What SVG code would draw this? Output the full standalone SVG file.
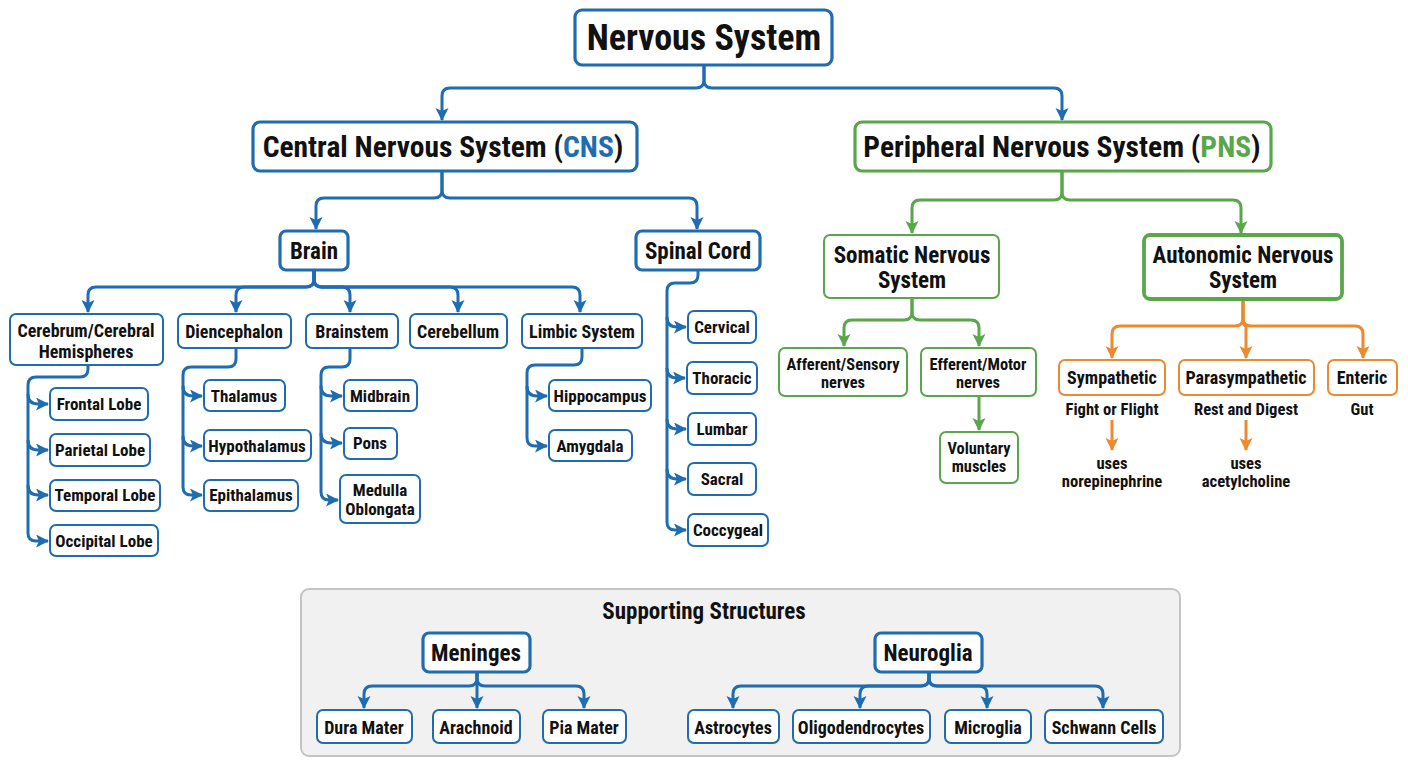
<svg xmlns="http://www.w3.org/2000/svg" width="1408" height="768" viewBox="0 0 1408 768">
<defs>
<marker id="ab" markerUnits="userSpaceOnUse" markerWidth="14" markerHeight="14" refX="12" refY="6.5" orient="auto"><path d="M0,0 L13,6.5 L0,13 L3,6.5 z" fill="#1f6db0"/></marker>
<marker id="ag" markerUnits="userSpaceOnUse" markerWidth="14" markerHeight="14" refX="12" refY="6.5" orient="auto"><path d="M0,0 L13,6.5 L0,13 L3,6.5 z" fill="#5aa64b"/></marker>
<marker id="ao" markerUnits="userSpaceOnUse" markerWidth="14" markerHeight="14" refX="12" refY="6.5" orient="auto"><path d="M0,0 L13,6.5 L0,13 L3,6.5 z" fill="#ee8a2e"/></marker>
</defs>
<style>
text{font-family:Roboto,"Liberation Sans",sans-serif;font-weight:700;font-stretch:condensed;text-anchor:middle;dominant-baseline:central;fill:#111}
rect.b{fill:#fff;stroke:#1f6db0;stroke-width:2}
rect.g{fill:#fff;stroke:#5aa64b;stroke-width:2}
rect.o{fill:#fff;stroke:#ee8a2e;stroke-width:2}
rect.t{stroke-width:3.2}
.cb path{fill:none;stroke:#1f6db0;stroke-width:3;stroke-linejoin:round}
.cg path{fill:none;stroke:#5aa64b;stroke-width:3;stroke-linejoin:round}
.co path{fill:none;stroke:#ee8a2e;stroke-width:3;stroke-linejoin:round}
.f36{font-size:36px}.f29{font-size:29.5px}.f23{font-size:23px}.f18{font-size:18px}.f17{font-size:17px}.f16{font-size:16.4px}.f165{font-size:16.6px}
</style>
<rect width="1408" height="768" fill="#fff"/>
<g id="supporting">
<rect x="301" y="589" width="879" height="167" rx="8" fill="#f1f1f1" stroke="#c4c4c4" stroke-width="2"/>
<text x="704" y="611" class="f23">Supporting Structures</text>
</g>
<g id="connectors">
<g class="cb">
<path d="M704,65 V80 Q704,88 696,88 H450 Q442,88 442,96 V120" marker-end="url(#ab)"/>
<path d="M704,65 V80 Q704,88 712,88 H1054 Q1062,88 1062,96 V120" marker-end="url(#ab)"/>
<path d="M442,171 V190 Q442,198 434,198 H324 Q316,198 316,206 V229" marker-end="url(#ab)"/>
<path d="M442,171 V190 Q442,198 450,198 H689 Q697,198 697,206 V229" marker-end="url(#ab)"/>
<path d="M314,270 V279 Q314,287 306,287 H96 Q88,287 88,295 V312" marker-end="url(#ab)"/>
<path d="M314,270 V279 Q314,287 306,287 H244 Q236,287 236,295 V312" marker-end="url(#ab)"/>
<path d="M314,270 V279 Q314,287 322,287 H342 Q350,287 350,295 V312" marker-end="url(#ab)"/>
<path d="M314,270 V279 Q314,287 322,287 H450 Q458,287 458,295 V312" marker-end="url(#ab)"/>
<path d="M314,270 V279 Q314,287 322,287 H572 Q580,287 580,295 V312" marker-end="url(#ab)"/>
<path d="M88,365 V369 Q88,377 80,377 H36 Q28,377 28,385 V533 Q28,541 36,541 H48" marker-end="url(#ab)"/>
<path d="M28,394 Q28,404 38,404 H48" marker-end="url(#ab)"/>
<path d="M28,440 Q28,450 38,450 H48" marker-end="url(#ab)"/>
<path d="M28,485 Q28,495 38,495 H48" marker-end="url(#ab)"/>
<path d="M236,348 V359 Q236,367 228,367 H191 Q183,367 183,375 V487 Q183,495 191,495 H202" marker-end="url(#ab)"/>
<path d="M183,386 Q183,396 193,396 H202" marker-end="url(#ab)"/>
<path d="M183,436 Q183,446 193,446 H202" marker-end="url(#ab)"/>
<path d="M350,348 V359 Q350,367 342,367 H329 Q321,367 321,375 V492 Q321,500 329,500 H338" marker-end="url(#ab)"/>
<path d="M321,386 Q321,396 331,396 H342" marker-end="url(#ab)"/>
<path d="M321,433 Q321,443 331,443 H342" marker-end="url(#ab)"/>
<path d="M582,348 V357 Q582,365 574,365 H535 Q527,365 527,373 V438 Q527,446 535,446 H547" marker-end="url(#ab)"/>
<path d="M527,386 Q527,396 537,396 H547" marker-end="url(#ab)"/>
<path d="M698,270 V275 Q698,283 690,283 H675 Q667,283 667,291 V522 Q667,530 675,530 H686" marker-end="url(#ab)"/>
<path d="M667,317 Q667,327 677,327 H686" marker-end="url(#ab)"/>
<path d="M667,368 Q667,378 677,378 H685" marker-end="url(#ab)"/>
<path d="M667,419 Q667,429 677,429 H686" marker-end="url(#ab)"/>
<path d="M667,469 Q667,479 677,479 H686" marker-end="url(#ab)"/>
<path d="M477,672 V678 Q477,686 469,686 H372 Q364,686 364,694 V708" marker-end="url(#ab)"/>
<path d="M477,672 V708" marker-end="url(#ab)"/>
<path d="M477,672 V678 Q477,686 485,686 H576 Q584,686 584,694 V708" marker-end="url(#ab)"/>
<path d="M929,672 V678 Q929,686 921,686 H741 Q733,686 733,694 V708" marker-end="url(#ab)"/>
<path d="M929,672 V678 Q929,686 921,686 H868 Q860,686 860,694 V708" marker-end="url(#ab)"/>
<path d="M929,672 V678 Q929,686 937,686 H979 Q987,686 987,694 V708" marker-end="url(#ab)"/>
<path d="M929,672 V678 Q929,686 937,686 H1095 Q1103,686 1103,694 V708" marker-end="url(#ab)"/>
</g>
<g class="cg">
<path d="M1062,171 V192 Q1062,200 1054,200 H920 Q912,200 912,208 V233" marker-end="url(#ag)"/>
<path d="M1062,171 V192 Q1062,200 1070,200 H1233 Q1241,200 1241,208 V233" marker-end="url(#ag)"/>
<path d="M912,298 V312 Q912,320 904,320 H852 Q844,320 844,328 V346" marker-end="url(#ag)"/>
<path d="M912,298 V312 Q912,320 920,320 H971 Q979,320 979,328 V346" marker-end="url(#ag)"/>
<path d="M979,396 V430" marker-end="url(#ag)"/>
</g>
<g class="co">
<path d="M1243,299 V318 Q1243,326 1235,326 H1120 Q1112,326 1112,334 V358" marker-end="url(#ao)"/>
<path d="M1243,299 V318 Q1243,326 1246,326 V358" marker-end="url(#ao)"/>
<path d="M1243,299 V318 Q1243,326 1251,326 H1355 Q1363,326 1363,334 V358" marker-end="url(#ao)"/>
<path d="M1112,420 V450" marker-end="url(#ao)"/>
<path d="M1246,420 V450" marker-end="url(#ao)"/>
</g>
</g>
<g id="nervous-system"><rect class="b t" x="575" y="10" width="257" height="55" rx="7"/><text x="704" y="38" class="f36">Nervous System</text></g>
<g id="cns"><rect class="b t" x="253" y="122" width="384" height="49" rx="7"/><text x="443" y="147" class="f29">Central Nervous System (<tspan fill="#1f6db0">CNS</tspan>)</text></g>
<g id="pns"><rect class="g t" x="855" y="122" width="416" height="49" rx="7"/><text x="1062" y="147" class="f29">Peripheral Nervous System (<tspan fill="#5aa64b">PNS</tspan>)</text></g>
<g id="brain"><rect class="b t" x="280" y="231" width="68" height="39" rx="6"/><text x="314" y="251" class="f23">Brain</text></g>
<g id="spinal-cord"><rect class="b t" x="636" y="231" width="124" height="39" rx="6"/><text x="698" y="251" class="f23">Spinal Cord</text></g>
<g id="somatic"><rect class="g" x="824" y="235" width="175" height="63" rx="6"/><text x="912" y="255" class="f23">Somatic Nervous</text><text x="912" y="280" class="f23">System</text></g>
<g id="autonomic"><rect class="g t" x="1144" y="235" width="198" height="64" rx="6" style="stroke-width:3.8"/><text x="1243" y="255" class="f23">Autonomic Nervous</text><text x="1243" y="280" class="f23">System</text></g>
<g id="cerebrum"><rect class="b" x="10" y="314" width="153" height="51" rx="6"/><text x="86" y="330" class="f18">Cerebrum/Cerebral</text><text x="86" y="351" class="f18">Hemispheres</text></g>
<g id="diencephalon"><rect class="b" x="178" y="314" width="113" height="34" rx="6"/><text x="234" y="331" class="f18">Diencephalon</text></g>
<g id="brainstem"><rect class="b" x="306" y="314" width="92" height="34" rx="6"/><text x="352" y="331" class="f18">Brainstem</text></g>
<g id="cerebellum"><rect class="b" x="410" y="314" width="97" height="34" rx="6"/><text x="458" y="331" class="f18">Cerebellum</text></g>
<g id="limbic"><rect class="b" x="522" y="314" width="120" height="34" rx="6"/><text x="582" y="331" class="f18">Limbic System</text></g>
<g id="frontal"><rect class="b" x="50" y="388" width="98" height="32" rx="6"/><text x="99" y="404" class="f17">Frontal Lobe</text></g>
<g id="parietal"><rect class="b" x="50" y="434" width="100" height="32" rx="6"/><text x="100" y="450" class="f17">Parietal Lobe</text></g>
<g id="temporal"><rect class="b" x="50" y="480" width="110" height="31" rx="6"/><text x="105" y="495" class="f17">Temporal Lobe</text></g>
<g id="occipital"><rect class="b" x="50" y="525" width="108" height="31" rx="6"/><text x="104" y="541" class="f17">Occipital Lobe</text></g>
<g id="thalamus"><rect class="b" x="204" y="380" width="81" height="31" rx="6"/><text x="244" y="396" class="f17">Thalamus</text></g>
<g id="hypothalamus"><rect class="b" x="204" y="430" width="107" height="31" rx="6"/><text x="257" y="446" class="f17">Hypothalamus</text></g>
<g id="epithalamus"><rect class="b" x="204" y="480" width="94" height="31" rx="6"/><text x="251" y="495" class="f17">Epithalamus</text></g>
<g id="midbrain"><rect class="b" x="344" y="380" width="73" height="31" rx="6"/><text x="380" y="396" class="f17">Midbrain</text></g>
<g id="pons"><rect class="b" x="344" y="428" width="53" height="31" rx="6"/><text x="370" y="443" class="f17">Pons</text></g>
<g id="medulla"><rect class="b" x="340" y="475" width="80" height="48" rx="6"/><text x="380" y="490" class="f17">Medulla</text><text x="380" y="509" class="f17">Oblongata</text></g>
<g id="hippocampus"><rect class="b" x="549" y="380" width="102" height="31" rx="6"/><text x="600" y="396" class="f17">Hippocampus</text></g>
<g id="amygdala"><rect class="b" x="549" y="430" width="83" height="31" rx="6"/><text x="590" y="446" class="f17">Amygdala</text></g>
<g id="cervical"><rect class="b" x="688" y="311" width="68" height="32" rx="6"/><text x="722" y="327" class="f17">Cervical</text></g>
<g id="thoracic"><rect class="b" x="687" y="362" width="70" height="32" rx="6"/><text x="722" y="378" class="f17">Thoracic</text></g>
<g id="lumbar"><rect class="b" x="688" y="413" width="68" height="32" rx="6"/><text x="722" y="429" class="f17">Lumbar</text></g>
<g id="sacral"><rect class="b" x="688" y="463" width="68" height="32" rx="6"/><text x="722" y="479" class="f17">Sacral</text></g>
<g id="coccygeal"><rect class="b" x="688" y="514" width="80" height="32" rx="6"/><text x="728" y="530" class="f17">Coccygeal</text></g>
<g id="afferent"><rect class="g" x="779" y="348" width="128" height="48" rx="6"/><text x="843" y="364" class="f16">Afferent/Sensory</text><text x="843" y="382" class="f16">nerves</text></g>
<g id="efferent"><rect class="g" x="921" y="348" width="115" height="48" rx="6"/><text x="978" y="364" class="f16">Efferent/Motor</text><text x="978" y="382" class="f16">nerves</text></g>
<g id="voluntary"><rect class="g" x="940" y="432" width="78" height="51" rx="6"/><text x="979" y="448" class="f16">Voluntary</text><text x="979" y="466" class="f16">muscles</text></g>
<g id="sympathetic"><rect class="o" x="1059" y="360" width="106" height="35" rx="6"/><text x="1112" y="377" class="f18">Sympathetic</text><text x="1112" y="409" class="f165">Fight or Flight</text><text x="1112" y="463" class="f165">uses</text><text x="1112" y="481" class="f165">norepinephrine</text></g>
<g id="parasympathetic"><rect class="o" x="1179" y="360" width="135" height="35" rx="6"/><text x="1246" y="377" class="f18">Parasympathetic</text><text x="1246" y="409" class="f165">Rest and Digest</text><text x="1246" y="463" class="f165">uses</text><text x="1246" y="481" class="f165">acetylcholine</text></g>
<g id="enteric"><rect class="o" x="1328" y="360" width="69" height="35" rx="6"/><text x="1362" y="377" class="f18">Enteric</text><text x="1362" y="409" class="f165">Gut</text></g>
<g id="meninges"><rect class="b t" x="423" y="633" width="107" height="39" rx="6"/><text x="476" y="653" class="f23">Meninges</text></g>
<g id="neuroglia"><rect class="b t" x="875" y="633" width="107" height="39" rx="6"/><text x="928" y="653" class="f23">Neuroglia</text></g>
<g id="dura"><rect class="b" x="317" y="710" width="95" height="33" rx="6"/><text x="364" y="727" class="f18">Dura Mater</text></g>
<g id="arachnoid"><rect class="b" x="433" y="710" width="87" height="33" rx="6"/><text x="476" y="727" class="f18">Arachnoid</text></g>
<g id="pia"><rect class="b" x="543" y="710" width="83" height="33" rx="6"/><text x="584" y="727" class="f18">Pia Mater</text></g>
<g id="astrocytes"><rect class="b" x="688" y="710" width="91" height="33" rx="6"/><text x="733" y="727" class="f18">Astrocytes</text></g>
<g id="oligodendrocytes"><rect class="b" x="793" y="710" width="137" height="33" rx="6"/><text x="861" y="727" class="f18">Oligodendrocytes</text></g>
<g id="microglia"><rect class="b" x="945" y="710" width="86" height="33" rx="6"/><text x="988" y="727" class="f18">Microglia</text></g>
<g id="schwann"><rect class="b" x="1045" y="710" width="118" height="33" rx="6"/><text x="1104" y="727" class="f18">Schwann Cells</text></g>
</svg>
